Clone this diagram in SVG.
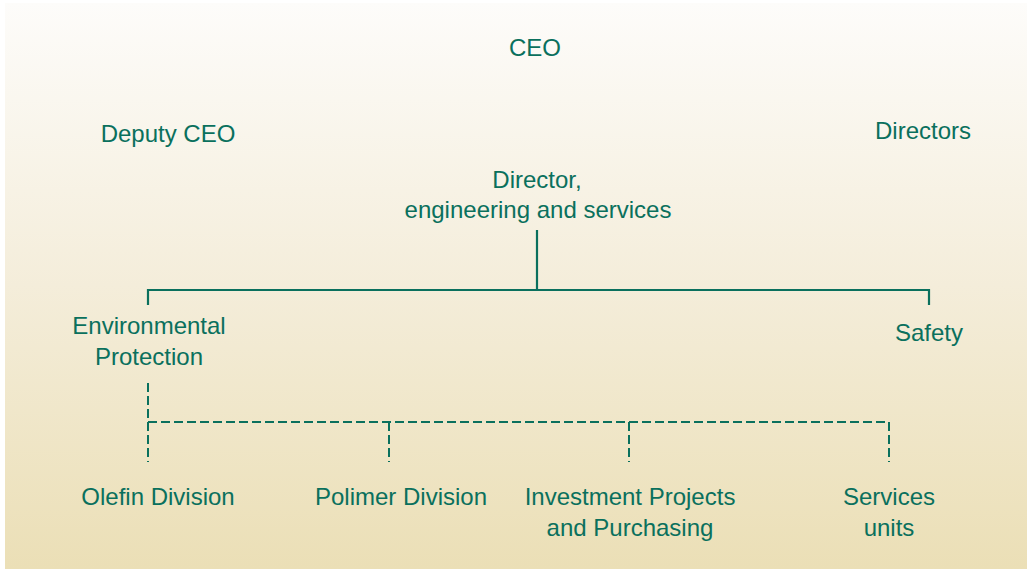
<svg xmlns="http://www.w3.org/2000/svg" width="1030" height="572" viewBox="0 0 1030 572">
<defs>
<linearGradient id="bg" x1="0" y1="0" x2="0" y2="1">
<stop offset="0" stop-color="#fdfcfa"/>
<stop offset="0.5" stop-color="#f4edda"/>
<stop offset="1" stop-color="#ebdfb6"/>
</linearGradient>
<style>
text{font-family:"Liberation Sans",Arial,sans-serif;font-size:24px;fill:#0a705d;text-anchor:middle}
.solid{stroke:#0a705d;stroke-width:2.2;fill:none}
.dash{stroke:#0a705d;stroke-width:2;fill:none;stroke-dasharray:9 4}
</style>
</defs>
<rect x="0" y="0" width="1030" height="572" fill="#ffffff"/>
<rect x="5" y="3" width="1022" height="566" fill="url(#bg)"/>
<g id="connectors">
<path class="solid" d="M537 230V290M148 305V290H929V305"/>
<path class="dash" d="M148 383V462"/>
<path class="dash" d="M148 422H889"/>
<path class="dash" d="M389 422V462"/>
<path class="dash" d="M629 422V462"/>
<path class="dash" d="M889 422V462"/>
</g>
<g id="ceo"><text x="535" y="56">CEO</text></g>
<g id="deputy"><text x="168" y="142">Deputy CEO</text></g>
<g id="directors"><text x="923" y="139">Directors</text></g>
<g id="director-es"><text x="537" y="188">Director,</text><text x="538" y="218">engineering and services</text></g>
<g id="env"><text x="149" y="334">Environmental</text><text x="149" y="365">Protection</text></g>
<g id="safety"><text x="929" y="341">Safety</text></g>
<g id="olefin"><text x="158" y="505">Olefin Division</text></g>
<g id="polimer"><text x="401" y="505">Polimer Division</text></g>
<g id="invest"><text x="630" y="505">Investment Projects</text><text x="630" y="536">and Purchasing</text></g>
<g id="services"><text x="889" y="505">Services</text><text x="889" y="536">units</text></g>
</svg>
